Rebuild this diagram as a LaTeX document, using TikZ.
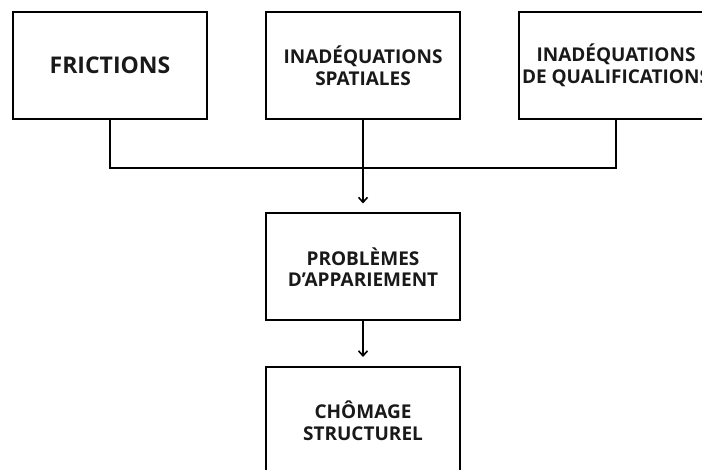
\documentclass[tikz,border=0pt]{standalone}
\usepackage{fontspec}
\setmainfont{Open Sans}
\usetikzlibrary{arrows.meta}
\begin{document}
\begin{tikzpicture}[x=1pt,y=-1pt,
  box/.style={draw=black,line width=2pt,minimum width=194pt,minimum height=107pt,inner sep=0pt,align=center,font=\bfseries\fontsize{19}{21.5}\selectfont,text=black!90},
  conn/.style={line width=2pt,draw=black},
  arr/.style={conn,-{Straight Barb[length=5pt,width=9pt,line width=1.6pt]},shorten >=9pt}]
\useasboundingbox (0,0) rectangle (702,470);
\node[box,font=\bfseries\fontsize{23}{27}\selectfont] (fr) at (110,65.5) {FRICTIONS};
\node[box] (sp) at (363,65.5) {INADÉQUATIONS\\SPATIALES};
\node[box] (qu) at (616,65.5) {INADÉQUATIONS\\DE QUALIFICATIONS};
\node[box] (ap) at (363,267) {PROBLÈMES\\D’APPARIEMENT};
\node[box] (ch) at (363,420.5) {CHÔMAGE\\STRUCTUREL};
\coordinate (j) at (363,168);
\draw[conn] (fr.south) |- (j) -| (qu.south);
\draw[arr] (sp.south) -- (ap.north);
\draw[arr] (ap.south) -- (ch.north);
\end{tikzpicture}
\end{document}
